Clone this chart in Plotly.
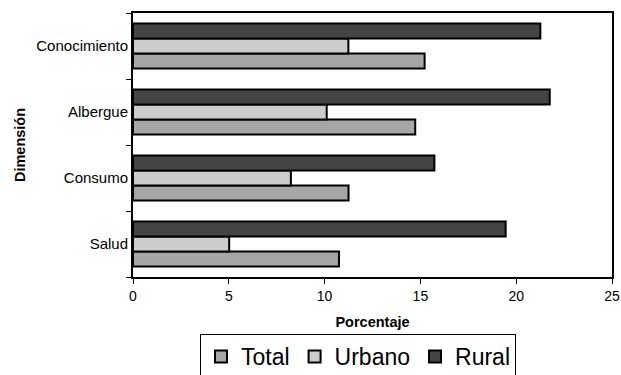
import plotly.graph_objects as go

# Dimensiones (de abajo hacia arriba) y porcentajes por área
dimensiones = ["Salud", "Consumo", "Albergue", "Conocimiento"]
total = [10.75, 11.25, 14.73, 15.22]
urbano = [5.02, 8.24, 10.11, 11.24]
rural = [19.45, 15.73, 21.75, 21.26]
x_ticks = [0, 5, 10, 15, 20, 25]

series = [
    ("Total", total, "#A6A6A6"),
    ("Urbano", urbano, "#CCCCCC"),
    ("Rural", rural, "#444444"),
]

fig = go.Figure()
for name, vals, color in series:
    fig.add_trace(go.Bar(
        y=dimensiones, x=vals, name=name, orientation="h",
        marker=dict(color=color, line=dict(color="black", width=2)),
    ))

W, H = 621, 375
ml, mr, mt, mb = 133, 9, 13, 98

fig.update_layout(
    width=W, height=H,
    margin=dict(l=ml, r=mr, t=mt, b=mb, autoexpand=False),
    paper_bgcolor="white", plot_bgcolor="white",
    barmode="group", bargap=0.32, bargroupgap=0,
    font=dict(family="Liberation Sans, Arial", size=15, color="black"),
    xaxis=dict(
        range=[0, 25], tickvals=x_ticks, ticks="outside", ticklen=5,
        tickwidth=1, tickcolor="black", showgrid=False, zeroline=False,
        showline=True, linecolor="black", linewidth=2, mirror=True,
        tickfont=dict(size=14),
        title=dict(text="<b>Porcentaje</b>", font=dict(size=14.5), standoff=14),
        automargin=False, fixedrange=True,
    ),
    yaxis=dict(
        categoryorder="array", categoryarray=dimensiones,
        tickson="boundaries", ticks="outside", ticklen=5, tickwidth=1,
        tickcolor="black", showgrid=False, zeroline=False,
        showline=True, linecolor="black", linewidth=2, mirror=True,
        tickfont=dict(size=15),
        title=dict(text="<b>Dimensión</b>", font=dict(size=14.5), standoff=7),
        automargin=False, fixedrange=True,
    ),
    legend=dict(
        orientation="h",
        xref="container", x=358 / W, xanchor="center",
        yref="container", y=1 - 334 / H, yanchor="top",
        bordercolor="black", borderwidth=1,
        font=dict(size=23), itemsizing="constant",
        traceorder="normal",
    ),
    showlegend=True,
)

fig.write_html("out.html")
